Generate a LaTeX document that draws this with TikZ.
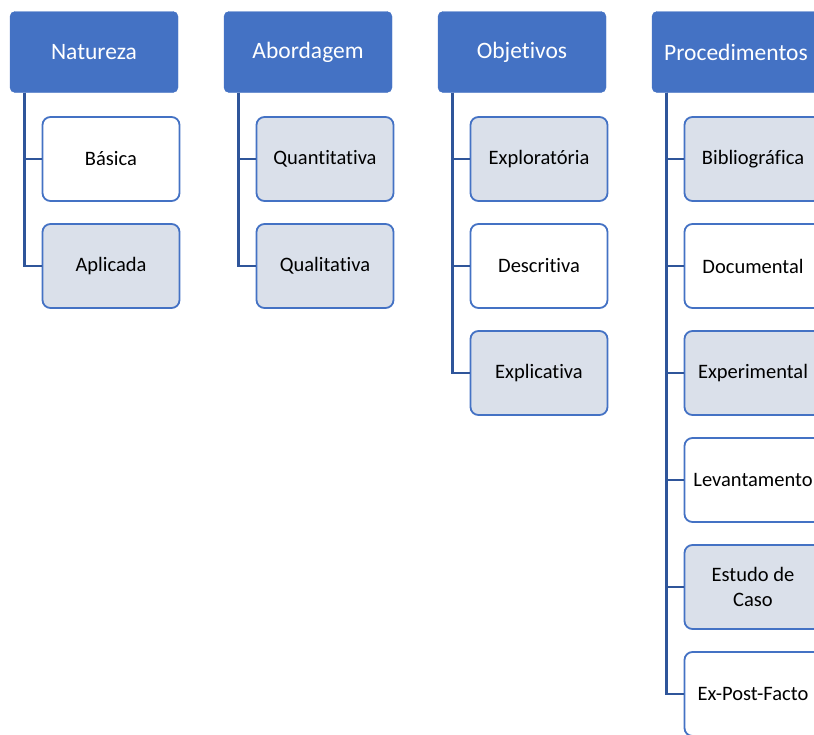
\documentclass[tikz,border=0pt]{standalone}
\usepackage{fontspec}
\setmainfont{Carlito}[Ligatures = NoCommon]
\usetikzlibrary{trees}

\definecolor{headblue}{HTML}{4472C4}
\definecolor{lineblue}{HTML}{2F559A}
\definecolor{paleblue}{HTML}{DAE0EA}

\tikzset{
    header/.style = {rectangle, rounded corners = 5pt, fill = headblue, draw = headblue,
        text = white, minimum width = 168pt, minimum height = 81pt,
        font = \fontsize{23.5}{28}\selectfont},
    leaf/.style = {rectangle, rounded corners = 8pt, draw = headblue, line width = 1.8pt,
        fill = white, text = black, minimum width = 137pt, minimum height = 84pt,
        align = center, font = \fontsize{20.5}{24.5}\selectfont},
    shaded/.style = {leaf, fill = paleblue}
}

\begin{document}
\begin{tikzpicture}[grow via three points = {one child at (17pt,-107pt) and
        two children at (17pt,-107pt) and (17pt,-214pt)},
    edge from parent/.style = {draw = lineblue, line width = 2.8pt},
    edge from parent path = {([xshift = 15pt]\tikzparentnode.south west) |- (\tikzchildnode.west)}]
    \useasboundingbox (0,0) rectangle (814pt,-734pt);
    \clip (0,0) rectangle (814pt,-734pt);
        \node[header] (natureza) at (94pt,-52pt) {Natureza}
            child{ node[leaf] (basica) {Básica} }
            child{ node[shaded] (aplicada) {Aplicada} };
        \node[header] (abordagem) at (308pt,-52pt) {Abordagem}
            child{ node[shaded] (quanti) {Quantitativa} }
            child{ node[shaded] (quali) {Qualitativa} };
        \node[header] (objetivos) at (522pt,-52pt) {Objetivos}
            child{ node[shaded] (explora) {Exploratória} }
            child{ node[leaf] (descreve) {Descritiva} }
            child{ node[shaded] (explica) {Explicativa} };
        \node[header] (procedimentos) at (736pt,-52pt) {Procedimentos}
            child{ node[shaded] (biblio) {Bibliográfica} }
            child{ node[leaf] (documental) {Documental} }
            child{ node[shaded] (experimental) {Experimental} }
            child{ node[leaf] (levantamento) {Levantamento} }
            child{ node[shaded] (estudo) {Estudo de\\Caso} }
            child{ node[leaf] (expost) {Ex-Post-Facto} };
\end{tikzpicture}
\end{document}
